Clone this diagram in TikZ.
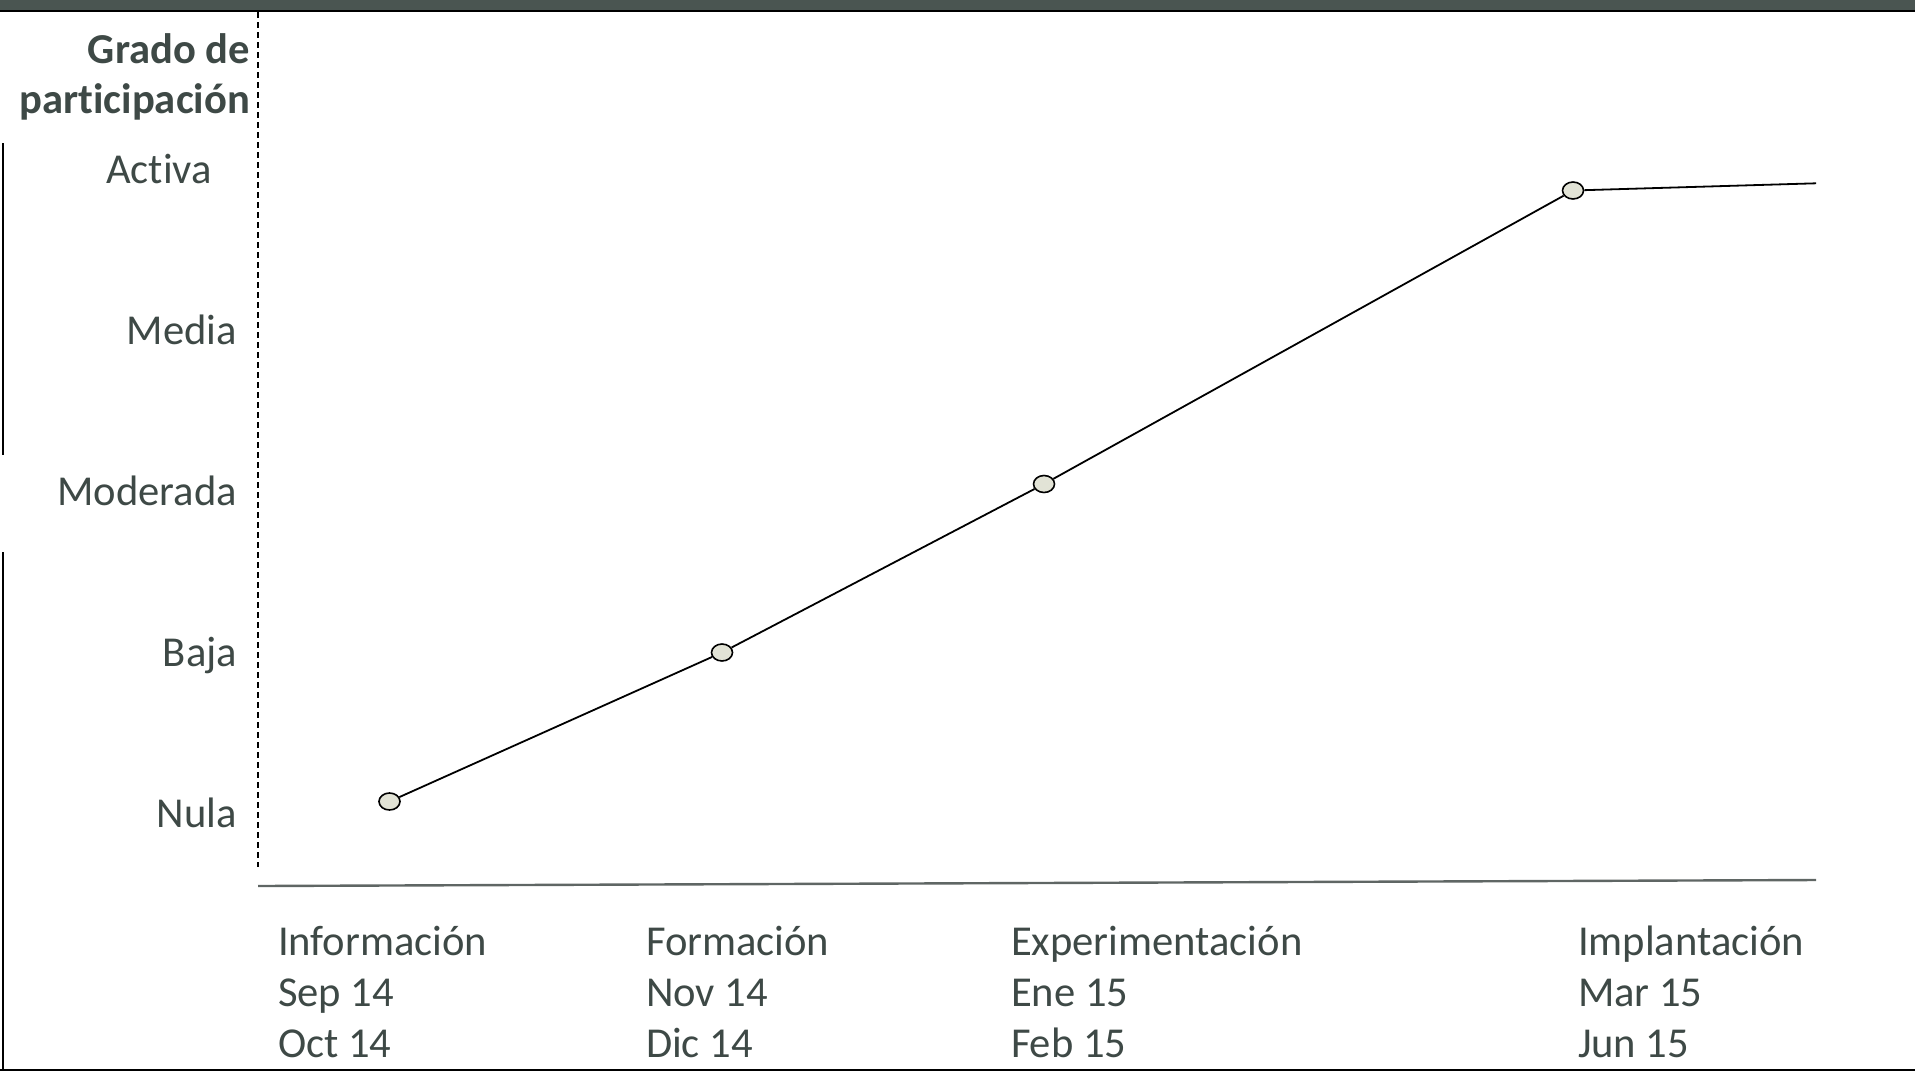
\documentclass[tikz,border=0pt]{standalone}
\usepackage{fontspec}
\setmainfont{Carlito}[Ligatures=NoCommon]
\usetikzlibrary{shapes.geometric}
\definecolor{txt}{HTML}{3E4946}
\definecolor{band}{HTML}{4A5551}
\definecolor{axisgray}{HTML}{5F6664}
\definecolor{markfill}{HTML}{E2E3D6}
\tikzset{
  lbl/.style={inner sep=0pt, outer sep=0pt, text=txt, font=\fontsize{21.3pt}{25.5pt}\selectfont},
  ttl/.style={lbl, font=\fontsize{21.3pt}{25.5pt}\selectfont\bfseries},
  marker/.style={ellipse, draw=black, fill=markfill, line width=0.8pt, minimum width=10.5pt, minimum height=8.5pt, inner sep=0pt},
  curve/.style={draw=black, line width=0.9pt},
}
\begin{document}
\begin{tikzpicture}[x=0.5pt, y=-0.5pt]
\useasboundingbox (0,0) rectangle (1915,1071);
% frame
\fill[band] (0,0) rectangle (1915,10.5);
\draw[black, line width=1pt] (0,11) -- (1915,11);
\draw[black, line width=1pt] (0,1070) -- (1915,1070);
\draw[black, line width=1pt] (3,143) -- (3,455);
\draw[black, line width=1pt] (3,552) -- (3,1071);
% axes
\coordinate (dashT) at (258,12);
\coordinate (dashB) at (258,867);
\draw[black, line width=0.75pt, dash pattern=on 3pt off 2pt] (dashT) -- (dashB);
\coordinate (axisL) at (258,886);
\coordinate (axisR) at (1816,880);
\draw[axisgray, line width=1.2pt] (axisL) -- (axisR);
% y labels
\node[ttl, anchor=base east] (t1) at (250,63) {Grado de};
\node[ttl, anchor=base east] (t2) at (250,113) {participación};
\node[lbl, anchor=base east] (yA) at (212,183) {Activa};
\node[lbl, anchor=base east] (yB) at (237,344) {Media};
\node[lbl, anchor=base east] (yC) at (237,505) {Moderada};
\node[lbl, anchor=base east] (yD) at (237,666) {Baja};
\node[lbl, anchor=base east] (yE) at (237,827) {Nula};
% x labels
\node[lbl, anchor=base west] (xA1) at (278,955) {Información};
\node[lbl, anchor=base west] (xA2) at (278,1006) {Sep 14};
\node[lbl, anchor=base west] (xA3) at (278,1057) {Oct 14};
\node[lbl, anchor=base west] (xB1) at (646,955) {Formación};
\node[lbl, anchor=base west] (xB2) at (646,1006) {Nov 14};
\node[lbl, anchor=base west] (xB3) at (646,1057) {Dic 14};
\node[lbl, anchor=base west] (xC1) at (1011,955) {Experimentación};
\node[lbl, anchor=base west] (xC2) at (1011,1006) {Ene 15};
\node[lbl, anchor=base west] (xC3) at (1011,1057) {Feb 15};
\node[lbl, anchor=base west] (xD1) at (1578,955) {Implantación};
\node[lbl, anchor=base west] (xD2) at (1578,1006) {Mar 15};
\node[lbl, anchor=base west] (xD3) at (1578,1057) {Jun 15};
% data
\node[marker] (p1) at (389.5,801.5) {};
\node[marker] (p2) at (722,652.5) {};
\node[marker] (p3) at (1044,484) {};
\node[marker] (p4) at (1573,190.5) {};
\coordinate (pend) at (1816,183.3);
\draw[curve] (p1) -- (p2);
\draw[curve] (p2) -- (p3);
\draw[curve] (p3) -- (p4);
\draw[curve] (p4) -- (pend);
\end{tikzpicture}
\end{document}
